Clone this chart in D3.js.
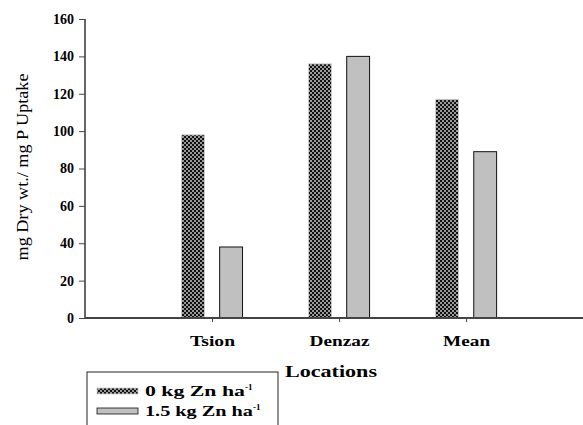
<!DOCTYPE html>
<html><head><meta charset="utf-8">
<script src="https://cdnjs.cloudflare.com/ajax/libs/d3/7.8.5/d3.min.js"></script>
<style>html,body{margin:0;padding:0;background:#fff;}svg{display:block;}svg text{font-family:"Liberation Serif","Times New Roman",Times,serif;}</style>
</head><body>
<svg id="c" width="583" height="425"></svg>
<script>
const categories = ["Tsion", "Denzaz", "Mean"];
const zn0 = [98, 136, 117];
const zn15 = [38, 140, 89];
const yTicks = [0, 20, 40, 60, 80, 100, 120, 140, 160];
const seriesNames = ["0 kg Zn ha", "1.5 kg Zn ha"];

const svg = d3.select("#c");
const defs = svg.append("defs");
const pat = defs.append("pattern").attr("id", "chk").attr("patternUnits", "userSpaceOnUse")
  .attr("width", 4).attr("height", 4);
pat.append("rect").attr("width", 4).attr("height", 4).attr("fill", "#9a9a9a");
pat.append("rect").attr("x", 0).attr("y", 0).attr("width", 2).attr("height", 2).attr("fill", "#111");
pat.append("rect").attr("x", 2).attr("y", 2).attr("width", 2).attr("height", 2).attr("fill", "#111");

const x = d3.scaleLinear().domain([0, 3.92]).range([85, 583]);
const y = d3.scaleLinear().domain([0, 160]).range([318, 19]);
const bw = x(0.18) - x(0);

// bars
svg.append("g").selectAll("rect").data(zn0).join("rect")
  .attr("x", (d, i) => x(i + 1 - 0.24)).attr("width", bw)
  .attr("y", d => y(d)).attr("height", d => y(0) - y(d))
  .attr("fill", "url(#chk)").attr("stroke", "#d0d0d0").attr("stroke-width", 0.8);
svg.append("g").selectAll("rect").data(zn15).join("rect")
  .attr("x", (d, i) => x(i + 1 + 0.06)).attr("width", bw)
  .attr("y", d => y(d)).attr("height", d => y(0) - y(d))
  .attr("fill", "#c0c0c0").attr("stroke", "#111").attr("stroke-width", 1);

// y axis
const ya = svg.append("g").attr("transform", "translate(85,0)")
  .call(d3.axisLeft(y).tickValues(yTicks).tickSize(6).tickPadding(5));
ya.attr("font-family", null);
ya.select(".domain").attr("stroke", "#666").attr("stroke-width", 2).attr("d", `M0,${y(160)}V${y(0)}`);
ya.selectAll(".tick line").attr("stroke", "#444");
ya.selectAll(".tick text").attr("font-weight", "bold")
  .attr("font-size", 14).attr("fill", "#000");

// x axis
const xa = svg.append("g").attr("transform", `translate(0,${y(0)})`)
  .call(d3.axisBottom(x).tickValues([1, 2, 3]).tickFormat(i => categories[i - 1]).tickSize(4).tickPadding(13));
xa.attr("font-family", null);
xa.select(".domain").attr("stroke", "#444").attr("stroke-width", 2).attr("d", `M${x(0)},0H${x(3.92)}`);
xa.selectAll(".tick line").attr("stroke", "#444");
xa.selectAll(".tick text").attr("font-weight", "bold")
  .attr("font-size", 15).attr("fill", "#000")
  .attr("textLength", (d, i) => [45, 60, 47][i]).attr("lengthAdjust", "spacingAndGlyphs");

// axis titles
svg.append("text").attr("x", 331).attr("y", 377).attr("text-anchor", "middle")
  .attr("font-weight", "bold").attr("font-size", 17).attr("textLength", 92)
  .attr("lengthAdjust", "spacingAndGlyphs").text("Locations");
svg.append("text").attr("transform", "translate(28,167) rotate(-90)").attr("text-anchor", "middle")
  .attr("font-size", 16).attr("textLength", 187).attr("lengthAdjust", "spacingAndGlyphs")
  .text("mg Dry wt./ mg P Uptake");

// legend
const lg = svg.append("g");
lg.append("rect").attr("x", 87).attr("y", 372).attr("width", 191).attr("height", 70)
  .attr("fill", "#fff").attr("stroke", "#222").attr("stroke-width", 1);
const fills = ["url(#chk)", "#c0c0c0"];
const strokes = ["#d0d0d0", "#111"];
seriesNames.forEach((n, i) => {
  const yy = 388 + i * 20;
  lg.append("rect").attr("x", 97).attr("y", yy).attr("width", 41).attr("height", 6)
    .attr("fill", fills[i]).attr("stroke", strokes[i]).attr("stroke-width", 0.8);
  const t = lg.append("text").attr("x", 145).attr("y", yy + 8).attr("font-weight", "bold")
    .attr("font-size", 15);
  t.append("tspan").attr("textLength", i === 0 ? 100 : 108).attr("lengthAdjust", "spacingAndGlyphs").text(n);
  t.append("tspan").attr("dy", -6).attr("font-size", 9).text("-1");
});
</script>
</body></html>
